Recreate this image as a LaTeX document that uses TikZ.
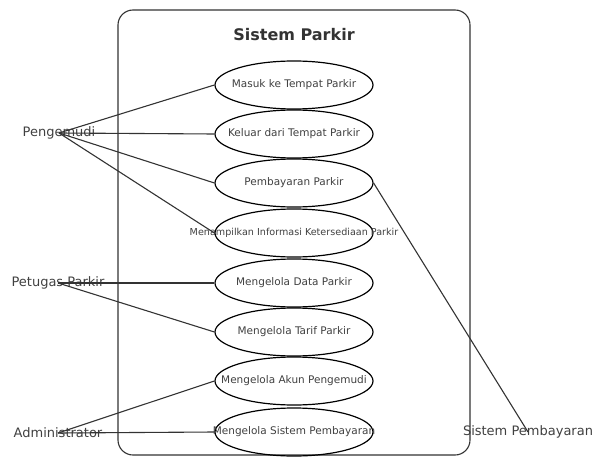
\documentclass[tikz,border=0pt]{standalone}
\usepackage{fontspec}
\setmainfont{DejaVu Sans}
\usetikzlibrary{shapes.geometric}
\newcommand{\uctext}[1]{\makebox[0pt]{#1}}
\begin{document}
\begin{tikzpicture}[x=1pt,y=-1pt,
		usecase/.style={ellipse,draw,line width=1.2pt,minimum width=158pt,minimum height=48pt,inner sep=0pt,font=\fontsize{10.5}{12}\selectfont,text=black!75},
		actor/.style={inner sep=0pt,font=\fontsize{13}{15}\selectfont,text=black!75},
		link/.style={line width=1.1pt,black!80}]
	\useasboundingbox (0,0) rectangle (596,457);
	\draw[line width=1.1pt,rounded corners=15pt,black!80] (118,10) rectangle (470,455);
	\node[font=\bfseries\fontsize{16}{18}\selectfont,text=black!80] (title) at (294,35) {Sistem Parkir};
	\node[usecase] (masuk) at (294,85) {\uctext{Masuk ke Tempat Parkir}};
	\node[usecase] (keluar) at (294,134) {\uctext{Keluar dari Tempat Parkir}};
	\node[usecase] (bayar) at (294,183) {\uctext{Pembayaran Parkir}};
	\node[usecase,font=\fontsize{9.6}{11}\selectfont] (info) at (294,233) {\uctext{Menampilkan Informasi Ketersediaan Parkir}};
	\node[usecase] (data) at (294,283) {\uctext{Mengelola Data Parkir}};
	\node[usecase] (tarif) at (294,332) {\uctext{Mengelola Tarif Parkir}};
	\node[usecase] (akun) at (294,381) {\uctext{Mengelola Akun Pengemudi}};
	\node[usecase] (sistem) at (294,432) {\uctext{Mengelola Sistem Pembayaran}};
	\node[actor] (pengemudi) at (59,133) {Pengemudi};
	\node[actor] (petugas) at (58,283) {Petugas Parkir};
	\node[actor] (admin) at (58,433) {Administrator};
	\node[actor] (pembayaran) at (528,432) {Sistem Pembayaran};
	\foreach \u in {masuk,keluar,bayar,info}
		\draw[link] (pengemudi.center) -- (\u.west);
	\foreach \u in {data,tarif}
		\draw[link] (petugas.center) -- (\u.west);
	\foreach \u in {akun,sistem}
		\draw[link] (admin.center) -- (\u.west);
	\draw[link] (pembayaran.center) -- (bayar.east);
\end{tikzpicture}
\end{document}
